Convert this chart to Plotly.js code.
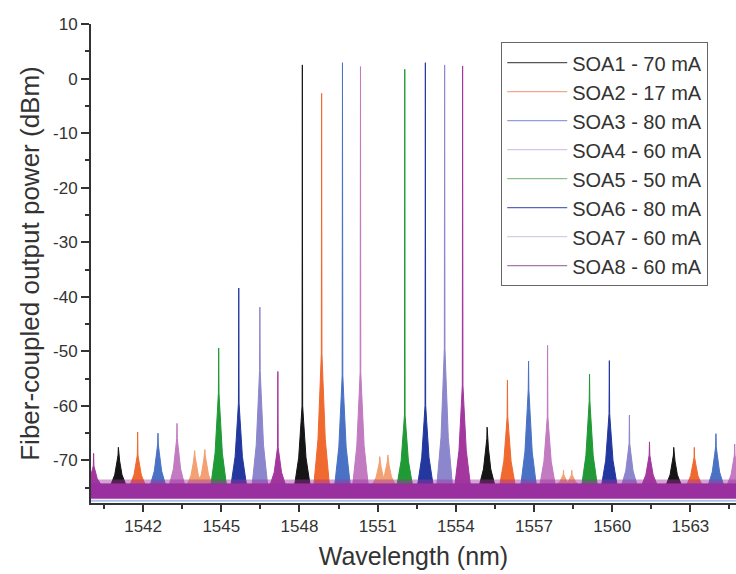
<!DOCTYPE html>
<html>
<head>
<meta charset="utf-8">
<script src="https://cdn.plot.ly/plotly-3.0.1.min.js"></script>
<style>html,body{margin:0;padding:0;background:#fff;}#chart{width:736px;height:574px;}</style>
</head>
<body>
<div id="chart"></div>
<script>
// ---- data ----
const soaNames = ["SOA1 - 70 mA","SOA2 - 17 mA","SOA3 - 80 mA","SOA4 - 60 mA","SOA5 - 50 mA","SOA6 - 80 mA","SOA7 - 60 mA","SOA8 - 60 mA"];

// peak wavelengths (nm), peak tops (dBm), top of the dense pedestal (dBm)
const soa1Wl = [1541.05, 1548.11, 1555.20, 1562.36];
const soa1Top = [-67.6, 2.5, -63.9, -67.6];
const soa1Ped = [-69.0, -60.0, -66.0, -69.0];

const soa2Wl = [1541.79, 1548.85, 1555.98, 1563.15];
const soa2Top = [-64.8, -2.7, -55.3, -67.6];
const soa2Ped = [-69.0, -50.4, -62.0, -69.5];
const soa2SideWl = [1543.98, 1544.37, 1551.08, 1551.39, 1558.13, 1558.45];
const soa2SideTop = [-68.2, -68.0, -69.3, -69.0, -71.8, -71.8];
const soa2SidePed = [-69.2, -69.0, -70.3, -70.0, -72.6, -72.6];

const soa3Wl = [1542.57, 1549.65, 1556.79, 1563.98];
const soa3Top = [-65.0, 2.9, -51.8, -65.1];
const soa3Ped = [-67.0, -54.4, -57.0, -67.5];

const soa4Wl = [1543.30, 1550.34, 1557.52, 1564.70];
const soa4Top = [-63.2, 2.2, -48.9, -67.0];
const soa4Ped = [-66.0, -53.8, -62.0, -69.0];

const soa5Wl = [1544.90, 1552.04, 1559.13];
const soa5Top = [-49.4, 1.7, -54.2];
const soa5Ped = [-57.7, -61.7, -59.0];

const soa6Wl = [1545.67, 1552.83, 1559.89];
const soa6Top = [-38.4, 2.9, -51.7];
const soa6Ped = [-59.5, -59.9, -61.4];

const soa7Wl = [1546.48, 1553.57, 1560.66];
const soa7Top = [-41.9, 2.5, -61.7];
const soa7Ped = [-53.5, -49.5, -66.9];

const soa8Wl = [1540.10, 1547.17, 1554.26, 1561.43];
const soa8Top = [-68.7, -53.7, 2.3, -66.6];
const soa8Ped = [-71.0, -67.6, -56.2, -69.0];

// noise floor (dBm)
const soaFloor = [-75.5, -74.8, -75.6, -75.4, -75.6, -75.8, -75.7, -75.5];
const floorLow = -77.0;
const floorHigh = -74.2;
const floorFuzz = -73.5;
const floorEdge = -77.4;
const wlRange = [1540, 1564.75];

const xTickVals = [1542, 1545, 1548, 1551, 1554, 1557, 1560, 1563];
const yTickVals = [10, 0, -10, -20, -30, -40, -50, -60, -70];
const yTickText = ["10", "0", "-10", "-20", "-30", "-40", "-50", "-60", "-70"];

// ---- styles ----
const colors = ["#151515", "#f0692f", "#4a72c4", "#c27ac0", "#1f9a35", "#22389e", "#8c86cc", "#a3379d"];
const legendColors = ["#555555", "#f2a88a", "#8f9ee0", "#d9c3e3", "#8fbf8f", "#5a66b8", "#d0cfe6", "#a47aa6"];
const sideColor = "#f3a072";
const pedBase = -74.6;

const wls = [soa1Wl, soa2Wl, soa3Wl, soa4Wl, soa5Wl, soa6Wl, soa7Wl, soa8Wl];
const tops = [soa1Top, soa2Top, soa3Top, soa4Top, soa5Top, soa6Top, soa7Top, soa8Top];
const peds = [soa1Ped, soa2Ped, soa3Ped, soa4Ped, soa5Ped, soa6Ped, soa7Ped, soa8Ped];

const offs = [-0.3, -0.14, -0.05, -0.012, 0, 0.012, 0.05, 0.14, 0.3];
function peakShape(w, t, p) {
  const x = [], y = [];
  for (let i = 0; i < w.length; i++) {
    const d = p[i] - pedBase;
    const ys = [pedBase, pedBase + 0.35 * d, pedBase + 0.8 * d, p[i], t[i], p[i], pedBase + 0.8 * d, pedBase + 0.35 * d, pedBase];
    for (let k = 0; k < offs.length; k++) { x.push(w[i] + offs[k]); y.push(ys[k]); }
    x.push(null); y.push(null);
  }
  return {x, y};
}

const traces = [];
// legend / floor traces
for (let s = 0; s < 8; s++) {
  traces.push({
    type: "scatter", mode: "lines", name: soaNames[s], legendgroup: "g" + s,
    x: wlRange, y: [soaFloor[s], soaFloor[s]],
    line: {color: legendColors[s], width: 1.2}, hoverinfo: "skip"
  });
}
// side peaks of SOA2
{
  const sh = peakShape(soa2SideWl, soa2SideTop, soa2SidePed);
  traces.push({type: "scatter", mode: "lines", x: sh.x, y: sh.y, fill: "toself", fillcolor: sideColor,
    line: {color: sideColor, width: 1}, showlegend: false, legendgroup: "g1", hoverinfo: "skip"});
}
// peaks
for (let s = 0; s < 8; s++) {
  const sh = peakShape(wls[s], tops[s], peds[s]);
  traces.push({type: "scatter", mode: "lines", x: sh.x, y: sh.y, fill: "toself", fillcolor: colors[s],
    line: {color: colors[s], width: 1}, showlegend: false, legendgroup: "g" + s, hoverinfo: "skip"});
}
// noise floor bands
traces.push({type: "scatter", mode: "lines", x: [wlRange[0], wlRange[1], wlRange[1], wlRange[0]],
  y: [floorHigh, floorHigh, floorFuzz, floorFuzz], fill: "toself", fillcolor: "rgba(160,50,160,0.45)",
  line: {width: 0}, showlegend: false, hoverinfo: "skip"});
traces.push({type: "scatter", mode: "lines", x: [wlRange[0], wlRange[1], wlRange[1], wlRange[0]],
  y: [floorLow, floorLow, floorHigh, floorHigh], fill: "toself", fillcolor: "#9a2f9f",
  line: {width: 0}, showlegend: false, hoverinfo: "skip"});
traces.push({type: "scatter", mode: "lines", x: wlRange, y: [floorEdge, floorEdge],
  line: {color: "#a9c4e8", width: 2}, showlegend: false, hoverinfo: "skip"});

const axisColor = "#333333";
const fontFam = "Liberation Sans, Arial, sans-serif";
const layout = {
  width: 736, height: 574,
  margin: {l: 91, r: 0, t: 24, b: 71},
  paper_bgcolor: "#ffffff", plot_bgcolor: "#ffffff",
  font: {family: fontFam, color: axisColor},
  showlegend: true,
  legend: {
    x: 0.636, y: 0.962, xanchor: "left", yanchor: "top",
    bgcolor: "#ffffff", bordercolor: "#666666", borderwidth: 1,
    font: {family: fontFam, size: 20, color: "#333333"},
    itemwidth: 60, tracegroupgap: 0, entrywidth: 218, entrywidthmode: "pixels"
  },
  xaxis: {
    range: wlRange, tickvals: xTickVals, ticks: "outside", ticklen: 7, tickwidth: 2, tickcolor: axisColor,
    minor: {dtick: 1.5, tick0: 1540.5, ticks: "outside", ticklen: 4, tickwidth: 2, tickcolor: axisColor},
    showline: true, linewidth: 2, linecolor: axisColor, showgrid: false, zeroline: false,
    tickfont: {size: 17, color: axisColor},
    title: {text: "Wavelength (nm)", font: {size: 25, color: axisColor}, standoff: 12}
  },
  xaxis2: {
    overlaying: "x", side: "top", anchor: "y", range: wlRange, tickvals: xTickVals,
    ticks: "inside", ticklen: 7, tickwidth: 2, tickcolor: axisColor,
    minor: {dtick: 1.5, tick0: 1540.5, ticks: "inside", ticklen: 4, tickwidth: 2, tickcolor: axisColor},
    showticklabels: false, showline: true, linewidth: 2, linecolor: axisColor, showgrid: false, zeroline: false
  },
  yaxis: {
    range: [-77.8, 10], tickvals: yTickVals, ticktext: yTickText,
    ticks: "outside", ticklen: 8, tickwidth: 2, tickcolor: axisColor,
    minor: {dtick: 5, tick0: -75, ticks: "outside", ticklen: 4, tickwidth: 2, tickcolor: axisColor},
    showline: true, linewidth: 2, linecolor: axisColor, showgrid: false, zeroline: false,
    tickfont: {size: 17, color: axisColor},
    title: {text: "Fiber-coupled output power (dBm)", font: {size: 26, color: axisColor}, standoff: 6}
  }
};

Plotly.newPlot("chart", traces, layout, {displayModeBar: false, staticPlot: true});
</script>
</body>
</html>
